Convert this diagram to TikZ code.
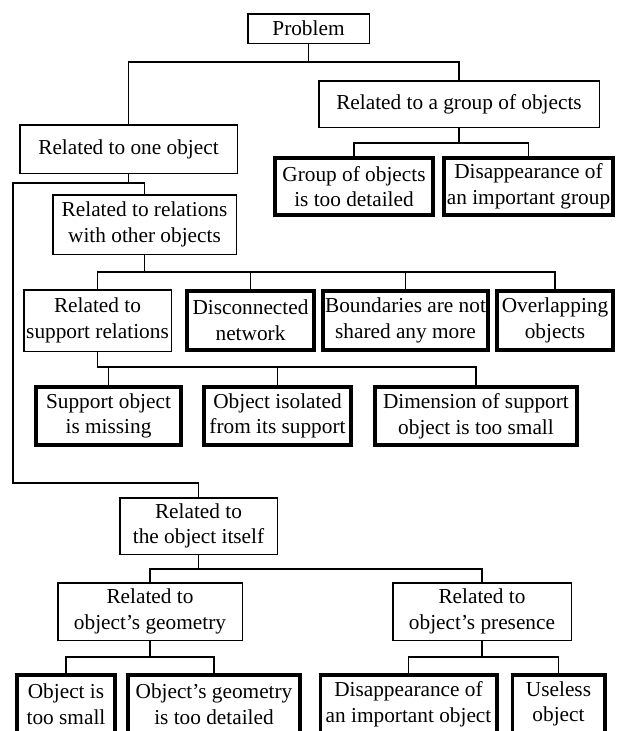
\documentclass[tikz,border=0pt]{standalone}
\usepackage{fontspec}
\setmainfont{Liberation Serif}
\begin{document}
\begin{tikzpicture}[x=1pt,y=-1pt,
  base/.style={draw, inner sep=0pt, align=center, font=\fontsize{21.3}{25.7}\selectfont},
  thin/.style={base, line width=1.5pt},
  thick/.style={base, line width=3.6pt},
  conn/.style={line width=1.6pt}]
\fill[white] (0,0) rectangle (620,731);
\clip (0,0) rectangle (620,731);
% nodes: thin boxes (min size = outer - line width)
\node[thin, minimum width=121.5pt, minimum height=29.5pt] (prob) at (308.5,28.5) {Problem};
\node[thin, minimum width=217.5pt, minimum height=48.5pt] (one) at (128.5,149) {Related to one object};
\node[thin, minimum width=280.5pt, minimum height=46.5pt] (grp) at (459,104) {Related to a group of objects};
\node[thick, minimum width=158.4pt, minimum height=57.4pt] (g1) at (354,186.5) {Group of objects\\is too detailed};
\node[thick, minimum width=169.4pt, minimum height=57.4pt] (g2) at (528.5,186.5) {Disappearance of\\an important group};
\node[thin, minimum width=183.5pt, minimum height=59.5pt] (rel) at (144.5,224.5) {Related to relations\\with other objects};
\node[thin, minimum width=147.5pt, minimum height=61.5pt] (sup) at (97.5,320.5) {Related to\\support relations};
\node[thick, minimum width=127.4pt, minimum height=59.4pt] (dis) at (250.5,320.5) {Disconnected\\network};
\node[thick, minimum width=165.4pt, minimum height=59.4pt] (bnd) at (405.5,320.5) {Boundaries are not\\shared any more};
\node[thick, minimum width=116.4pt, minimum height=59.4pt] (ovl) at (555,320.5) {Overlapping\\objects};
\node[thick, minimum width=145.4pt, minimum height=58.4pt] (s1) at (108.5,416) {Support object\\is missing};
\node[thick, minimum width=147.4pt, minimum height=58.4pt] (s2) at (277.5,416) {Object isolated\\from its support};
\node[thick, minimum width=202.4pt, minimum height=58.4pt] (s3) at (476,416) {Dimension of support\\object is too small};
\node[thin, minimum width=157.5pt, minimum height=56.5pt] (self) at (198.5,526) {Related to\\the object itself};
\node[thin, minimum width=184.5pt, minimum height=57.5pt] (geo) at (150,611.5) {Related to\\object’s geometry};
\node[thin, minimum width=178.5pt, minimum height=57.5pt] (pre) at (482,611.5) {Related to\\object’s presence};
\node[thick, minimum width=98.4pt, minimum height=58.4pt] (b1) at (66,704) {Object is\\too small};
\node[thick, minimum width=172.4pt, minimum height=58.4pt] (b2) at (214,704) {Object’s geometry\\is too detailed};
\node[thick, minimum width=176.4pt, minimum height=58.4pt] (b3) at (408.5,704) {Disappearance of\\an important object};
\node[thick, minimum width=92.4pt, minimum height=58.4pt] (b4) at (558.5,704) {Useless\\object};
% connectors
\draw[conn] (prob.south) -- ++(0,18) coordinate (p0) -| (one.north);
\draw[conn] (p0) -| (grp.north);
\draw[conn] (grp.south) -- ++(0,15) coordinate (q0) -| (g1.north);
\draw[conn] (q0) -| (g2.north);
\draw[conn] (one.south) -- ++(0,9) coordinate (j1) -| (rel.north);
\coordinate (lc) at (13,183);
\coordinate (lb) at (13,483);
\draw[conn] (j1) -- (lc) -- (lb) -| (self.north);
\draw[conn] (rel.south) -- ++(0,17) coordinate (r0) -| (sup.north);
\draw[conn] (r0) -| (dis.north);
\draw[conn] (r0) -| (bnd.north);
\draw[conn] (r0) -| (ovl.north);
\draw[conn] (sup.south) -- ++(0,15) coordinate (t0) -| (s1.north);
\draw[conn] (t0) -| (s2.north);
\draw[conn] (t0) -| (s3.north);
\draw[conn] (self.south) -- ++(0,14) coordinate (u0) -| (geo.north);
\draw[conn] (u0) -| (pre.north);
\draw[conn] (geo.south) -- ++(0,16) coordinate (v0) -| (b1.north);
\draw[conn] (v0) -| (b2.north);
\draw[conn] (pre.south) -- ++(0,16) coordinate (w0) -| (b3.north);
\draw[conn] (w0) -| (b4.north);
\end{tikzpicture}
\end{document}
